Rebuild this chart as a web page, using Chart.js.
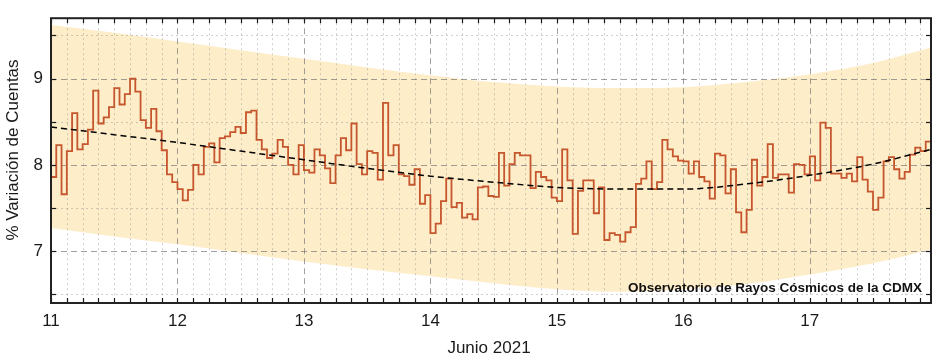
<!DOCTYPE html>
<html>
<head>
<meta charset="utf-8">
<script src="https://cdn.jsdelivr.net/npm/chart.js@4.4.1/dist/chart.umd.min.js"></script>
<style>
html,body{margin:0;padding:0;background:#ffffff;}
#wrap{width:943px;height:363px;position:relative;}
</style>
</head>
<body>
<div id="wrap"><canvas id="c" width="943" height="363"></canvas></div>
<script>
// ---- Data: hourly % variation of counts, 11-17 June 2021 ----
const day11 = [7.86, 8.23, 7.66, 8.16, 8.60, 8.18, 8.24, 8.41, 8.86, 8.48, 8.55, 8.67, 8.89, 8.70, 8.82, 9.00, 8.85, 8.52, 8.43, 8.65, 8.39, 8.17, 7.89, 7.80];
const day12 = [7.72, 7.59, 7.71, 8.00, 7.89, 8.21, 8.25, 8.03, 8.31, 8.33, 8.38, 8.44, 8.37, 8.61, 8.63, 8.29, 8.18, 8.08, 8.13, 8.29, 8.21, 8.00, 7.89, 8.23];
const day13 = [7.94, 7.91, 8.18, 8.11, 7.96, 7.79, 8.11, 8.31, 8.17, 8.48, 8.01, 7.89, 8.16, 8.14, 7.83, 8.72, 8.11, 8.23, 7.89, 7.87, 7.77, 7.95, 7.55, 7.65];
const day14 = [7.21, 7.32, 7.58, 7.84, 7.51, 7.56, 7.39, 7.43, 7.37, 7.74, 7.75, 7.64, 7.63, 8.14, 7.76, 8.01, 8.14, 8.11, 8.11, 7.73, 7.92, 7.86, 7.82, 7.62];
const day15 = [7.58, 8.18, 7.82, 7.20, 7.70, 7.82, 7.82, 7.44, 7.74, 7.13, 7.21, 7.19, 7.11, 7.22, 7.28, 7.78, 7.84, 8.04, 7.72, 7.80, 8.29, 8.18, 8.10, 8.05];
const day16 = [8.04, 7.90, 8.04, 7.86, 7.81, 7.61, 8.13, 8.11, 7.67, 7.95, 7.45, 7.22, 7.48, 8.06, 7.76, 7.86, 8.24, 7.85, 7.89, 7.89, 7.68, 8.01, 8.00, 7.89];
const day17 = [8.10, 7.82, 8.49, 8.43, 7.90, 7.90, 7.85, 7.90, 7.81, 8.09, 7.83, 7.69, 7.48, 7.62, 8.04, 8.09, 7.95, 7.84, 7.92, 8.12, 8.20, 8.16, 8.27];
const startDay = 11;

// Trend (dashed) and confidence band, read at half-day positions
const trendX    = [11, 11.5, 12, 12.5, 13, 13.5, 14, 14.5, 15, 15.5, 16, 16.5, 17, 17.5, 17.958];
const trendY    = [8.44, 8.35, 8.26, 8.16, 8.06, 7.96, 7.87, 7.80, 7.74, 7.72, 7.72, 7.78, 7.88, 8.01, 8.18];
const bandUpper = [9.62, 9.53, 9.43, 9.33, 9.23, 9.13, 9.04, 8.96, 8.91, 8.89, 8.90, 8.96, 9.05, 9.18, 9.36];
const bandLower = [7.27, 7.17, 7.08, 6.98, 6.88, 6.79, 6.71, 6.63, 6.56, 6.53, 6.56, 6.62, 6.73, 6.86, 7.02];

const xMin = 11, xMax = 17 + 23/24;
const yMin = 6.4, yMax = 9.7;
const xLabelText = 'Junio 2021';
const yLabelText = '% Variación de Cuentas';
const noteText = 'Observatorio de Rayos Cósmicos de la CDMX';

// ---- Build datasets ----
const hourly = [].concat(day11, day12, day13, day14, day15, day16, day17);
const stepPts = hourly.map((v, i) => ({x: startDay + i / 24, y: v}));
stepPts.push({x: startDay + hourly.length / 24, y: hourly[hourly.length - 1]});
const trendPts = trendX.map((x, i) => ({x, y: trendY[i]}));
const upperPts = trendX.map((x, i) => ({x, y: bandUpper[i]}));
const lowerPts = trendX.map((x, i) => ({x, y: bandLower[i]}));

const FONT = '"Liberation Sans", Arial, Helvetica, sans-serif';
Chart.defaults.font.family = FONT;

const decor = {
  id: 'decor',
  afterDatasetDraw(chart, args) {
    if (args.index !== 0) return; // after band fill: draw grid on top of band
    const {ctx, chartArea: a, scales: {x, y}} = chart;
    ctx.save();
    ctx.beginPath(); ctx.rect(a.left, a.top, a.right - a.left, a.bottom - a.top); ctx.clip();
    // minor dotted grid
    ctx.lineWidth = 1;
    ctx.strokeStyle = 'rgba(120,120,120,0.35)';
    ctx.setLineDash([2, 3]);
    for (let k = 0; xMin + k * 0.125 <= xMax + 1e-9; k++) {
      const v = xMin + k * 0.125;
      if (Math.abs(v - Math.round(v)) < 1e-9) continue;
      const px = Math.round(x.getPixelForValue(v)) + 0.5;
      ctx.beginPath(); ctx.moveTo(px, a.top); ctx.lineTo(px, a.bottom); ctx.stroke();
    }
    for (let v = 6.5; v <= 9.5; v += 1) {
      const py = Math.round(y.getPixelForValue(v)) + 0.5;
      ctx.beginPath(); ctx.moveTo(a.left, py); ctx.lineTo(a.right, py); ctx.stroke();
    }
    // major dashed grid
    ctx.strokeStyle = 'rgba(110,110,110,0.65)';
    ctx.setLineDash([6, 4]);
    for (let v = 12; v <= 17; v++) {
      const px = Math.round(x.getPixelForValue(v)) + 0.5;
      ctx.beginPath(); ctx.moveTo(px, a.top); ctx.lineTo(px, a.bottom); ctx.stroke();
    }
    for (let v = 7; v <= 9; v++) {
      const py = Math.round(y.getPixelForValue(v)) + 0.5;
      ctx.beginPath(); ctx.moveTo(a.left, py); ctx.lineTo(a.right, py); ctx.stroke();
    }
    ctx.restore();
  },
  afterDatasetsDraw(chart) {
    const {ctx, chartArea: a, scales: {x, y}} = chart;
    ctx.save();
    ctx.setLineDash([]);
    ctx.strokeStyle = '#1a1a1a';
    ctx.lineWidth = 1.2;
    const tl = 5;
    for (let k = 0; xMin + k * 0.125 <= xMax + 1e-9; k++) {
      const px = Math.round(x.getPixelForValue(xMin + k * 0.125)) + 0.5;
      ctx.beginPath(); ctx.moveTo(px, a.bottom); ctx.lineTo(px, a.bottom - tl); ctx.stroke();
      ctx.beginPath(); ctx.moveTo(px, a.top); ctx.lineTo(px, a.top + tl); ctx.stroke();
    }
    for (let v = 6.5; v <= 9.5 + 1e-9; v += 0.5) {
      const py = Math.round(y.getPixelForValue(v)) + 0.5;
      ctx.beginPath(); ctx.moveTo(a.left, py); ctx.lineTo(a.left + tl, py); ctx.stroke();
      ctx.beginPath(); ctx.moveTo(a.right, py); ctx.lineTo(a.right - tl, py); ctx.stroke();
    }
    // frame
    ctx.lineWidth = 2;
    ctx.strokeStyle = '#222';
    ctx.strokeRect(a.left, a.top, a.right - a.left, a.bottom - a.top);
    // annotation
    ctx.fillStyle = '#111';
    ctx.font = 'bold 13.5px ' + FONT;
    ctx.textAlign = 'right';
    ctx.textBaseline = 'alphabetic';
    ctx.fillText(noteText, a.right - 9, 291.5);
    // axis titles
    ctx.font = '17px ' + FONT;
    ctx.fillStyle = '#1a1a1a';
    ctx.textAlign = 'center';
    ctx.textBaseline = 'middle';
    ctx.fillText(xLabelText, (a.left + a.right) / 2 - 2, 348.5);
    ctx.translate(13, 150);
    ctx.rotate(-Math.PI / 2);
    ctx.fillText(yLabelText, 0, 0);
    ctx.restore();
  }
};

new Chart(document.getElementById('c'), {
  type: 'line',
  data: {
    datasets: [
      { label: 'upper', data: upperPts, borderColor: 'transparent', borderWidth: 0, pointRadius: 0,
        backgroundColor: '#FDEDC9', fill: 1, cubicInterpolationMode: 'monotone', order: 3 },
      { label: 'lower', data: lowerPts, borderColor: 'transparent', borderWidth: 0, pointRadius: 0,
        fill: false, cubicInterpolationMode: 'monotone', order: 4 },
      { label: 'counts', data: stepPts, stepped: true, borderColor: '#C5562D', borderWidth: 1.8,
        pointRadius: 0, fill: false, order: 1 },
      { label: 'trend', data: trendPts, borderColor: '#000', borderWidth: 1.5, borderDash: [6, 4],
        pointRadius: 0, fill: false, cubicInterpolationMode: 'monotone', order: 0 }
    ]
  },
  options: {
    responsive: false,
    animation: false,
    devicePixelRatio: 1,
    layout: { padding: { top: 17, right: 12, left: 0, bottom: 0 } },
    plugins: { legend: { display: false }, tooltip: { enabled: false } },
    scales: {
      x: {
        type: 'linear', min: xMin, max: xMax,
        afterFit: s => { s.height = 60; },
        grid: { display: false, drawTicks: false },
        border: { display: false },
        ticks: { stepSize: 1, includeBounds: false, autoSkip: false, maxRotation: 0,
                 padding: 8, color: '#1a1a1a', font: { size: 17 },
                 callback: v => Number.isInteger(v) ? String(v) : '' }
      },
      y: {
        type: 'linear', min: yMin, max: yMax,
        afterFit: s => { s.width = 51; },
        grid: { display: false, drawTicks: false },
        border: { display: false },
        ticks: { stepSize: 1, includeBounds: false, padding: 8, color: '#1a1a1a', font: { size: 17 },
                 callback: v => Number.isInteger(v) ? String(v) : '' }
      }
    }
  },
  plugins: [decor]
});
</script>
</body>
</html>
